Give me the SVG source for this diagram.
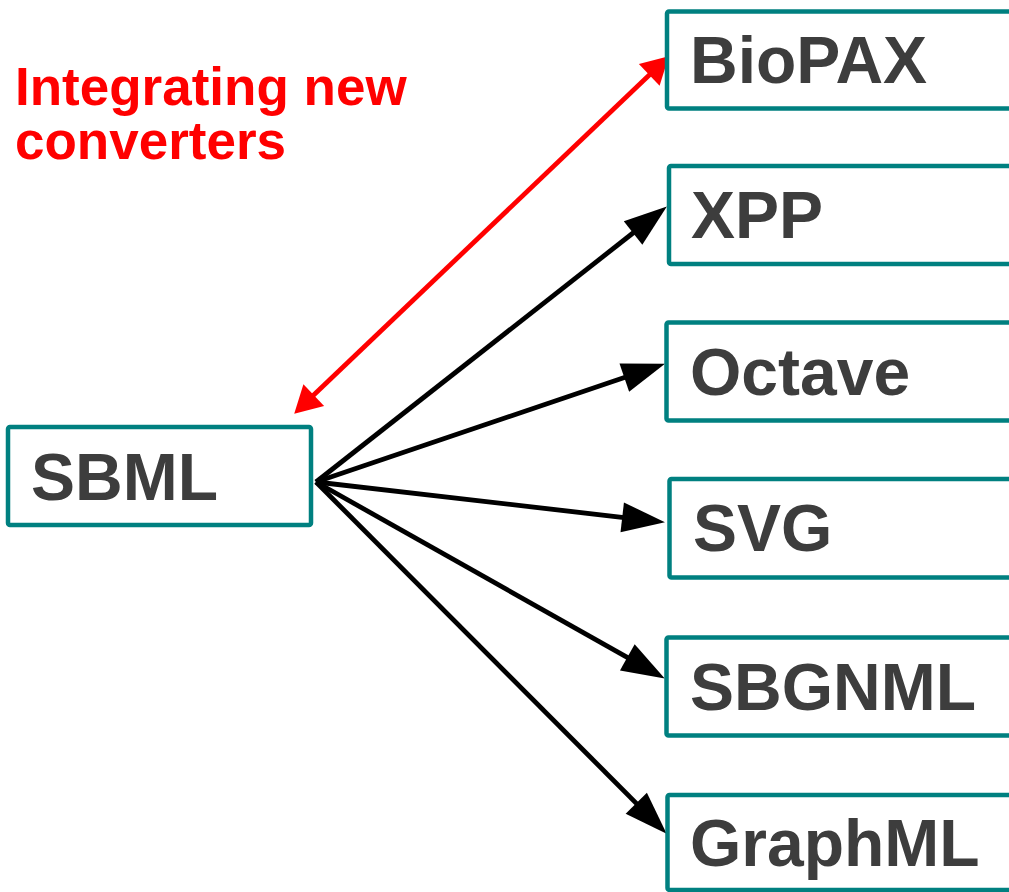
<svg xmlns="http://www.w3.org/2000/svg" width="1009" height="892" viewBox="0 0 1009 892">
<style>
.box{fill:#ffffff;stroke:#008080;stroke-width:4.5}
.lbl{font-family:"Liberation Sans",Arial,sans-serif;font-weight:bold;font-size:66px;fill:#3d3d3d}
.note{font-family:"Liberation Sans",Arial,sans-serif;font-weight:bold;font-size:53px;fill:#ff0000}
.blk{stroke:#000000;stroke-width:4.8;fill:none;marker-end:url(#ah)}
.red{stroke:#ff0000;stroke-width:4.8;fill:none;marker-start:url(#rh);marker-end:url(#rh)}
</style>
<defs>
<marker id="ah" markerUnits="userSpaceOnUse" markerWidth="46" markerHeight="32" refX="4" refY="15" orient="auto" overflow="visible">
<path d="M0,0 L43,15 L0,30 z" fill="#000000"/>
</marker>
<marker id="rh" markerUnits="userSpaceOnUse" markerWidth="28" markerHeight="32" refX="3" refY="15" orient="auto-start-reverse" overflow="visible">
<path d="M0,0 L27,15 L0,30 z" fill="#ff0000"/>
</marker>
</defs>
<rect width="1009" height="892" fill="#ffffff"/>
<g id="connectors">
<line class="red" x1="311.6" y1="397.1" x2="651.4" y2="72.9"/>
<line class="blk" x1="316" y1="482" x2="636.2" y2="230.5"/>
<line class="blk" x1="316" y1="482" x2="628.1" y2="376.3"/>
<line class="blk" x1="316" y1="482" x2="626.2" y2="517.8"/>
<line class="blk" x1="316" y1="482" x2="630.8" y2="659.4"/>
<line class="blk" x1="316" y1="482" x2="639.1" y2="806.1"/>
</g>
<g id="note">
<text class="note" x="15" y="105">Integrating new</text>
<text class="note" x="15" y="159">converters</text>
</g>
<g id="sbml">
<rect class="box" x="8" y="427" width="303" height="98" rx="2"/>
<text class="lbl" x="31" y="500">SBML</text>
</g>
<g id="biopax">
<rect class="box" x="667" y="11.5" width="400" height="97" rx="2"/>
<text class="lbl" x="690" y="83">BioPAX</text>
</g>
<g id="xpp">
<rect class="box" x="669" y="166" width="400" height="98" rx="2"/>
<text class="lbl" x="691" y="238">XPP</text>
</g>
<g id="octave">
<rect class="box" x="666.5" y="322.5" width="400" height="98" rx="2"/>
<text class="lbl" x="690" y="395">Octave</text>
</g>
<g id="svg">
<rect class="box" x="669.5" y="479" width="400" height="98.5" rx="2"/>
<text class="lbl" x="693" y="551">SVG</text>
</g>
<g id="sbgnml">
<rect class="box" x="666.5" y="637.5" width="400" height="98" rx="2"/>
<text class="lbl" x="690" y="710">SBGNML</text>
</g>
<g id="graphml">
<rect class="box" x="667.5" y="795" width="400" height="95" rx="2"/>
<text class="lbl" x="690" y="866">GraphML</text>
</g>
</svg>
